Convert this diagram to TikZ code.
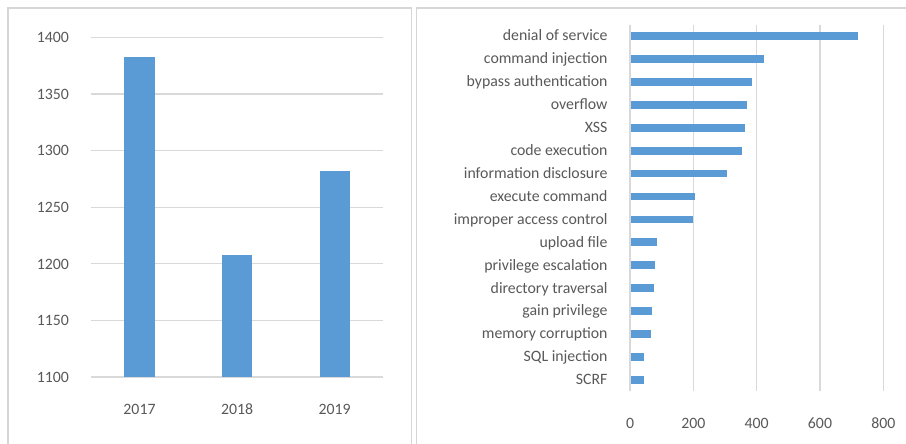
\documentclass[tikz,border=0pt]{standalone}
\usepackage{fontspec}
\setmainfont{Carlito}
\definecolor{barblue}{HTML}{5B9BD5}
\definecolor{gridgray}{HTML}{D9D9D9}
\definecolor{framegray}{HTML}{D6D6D6}
\definecolor{labelgray}{HTML}{595959}
\tikzset{
  frame/.style={draw=framegray, line width=1.6pt},
  gridline/.style={draw=gridgray, line width=1.3pt},
  bar/.style={fill=barblue, draw=none},
  ticklabel/.style={text=labelgray, font=\fontsize{15.8}{17}\selectfont, inner sep=0pt},
}
\begin{document}
\begin{tikzpicture}[x=1pt, y=-1pt]
\useasboundingbox (0,0) rectangle (906,444);
\fill[white] (0,0) rectangle (906,444);

% panel frames (open at the bottom)
\draw[frame] (7.8,450) -- (7.8,8.3) -- (411.6,8.3) -- (411.6,450);
\draw[frame] (416.6,450) -- (416.6,8.3) -- (910,8.3);

% ---------- yearly totals ----------
\foreach \v [count=\i from 0] in {1100,1150,1200,1250,1300,1350,1400} {
  \pgfmathsetmacro{\yy}{377-56.6*\i}
  \draw[gridline] (91,\yy) -- (383,\yy);
  \node[ticklabel, anchor=base east] (ylab\v) at (69,\yy+5.3) {\v};
}
\foreach \yr/\val/\cx in {2017/1383/139.5, 2018/1208/237.2, 2019/1282/334.7} {
  \pgfmathsetmacro{\top}{377-(\val-1100)/50*56.6}
  \fill[bar] (\cx-15.2,377) rectangle (\cx+15.2,\top);
  \node[ticklabel, anchor=base] (year\yr) at (\cx,414.3) {\yr};
}

% ---------- vulnerability types ----------
\foreach \v [count=\i from 0] in {0,200,400,600,800} {
  \pgfmathsetmacro{\xx}{630+63.33*\i}
  \draw[gridline] (\xx,25) -- (\xx,390.5);
  \node[ticklabel, anchor=base] (xlab\v) at (\xx,428.3) {\v};
}
\foreach \name/\val [count=\i from 0] in {
  denial of service/719,
  command injection/424,
  bypass authentication/384,
  overflow/369,
  XSS/363,
  code execution/353,
  information disclosure/307,
  execute command/205,
  improper access control/199,
  upload file/84,
  privilege escalation/80,
  directory traversal/77,
  gain privilege/70,
  memory corruption/67,
  SQL injection/44,
  SCRF/44} {
  \pgfmathsetmacro{\yy}{36+22.93*\i}
  \pgfmathsetmacro{\xe}{630+\val/200*63.33}
  \fill[bar] (631,\yy-3.9) rectangle (\xe,\yy+3.9);
  \node[ticklabel, anchor=base east] (cat\i) at (607.7,\yy+4.8) {\name};
}
\end{tikzpicture}
\end{document}
